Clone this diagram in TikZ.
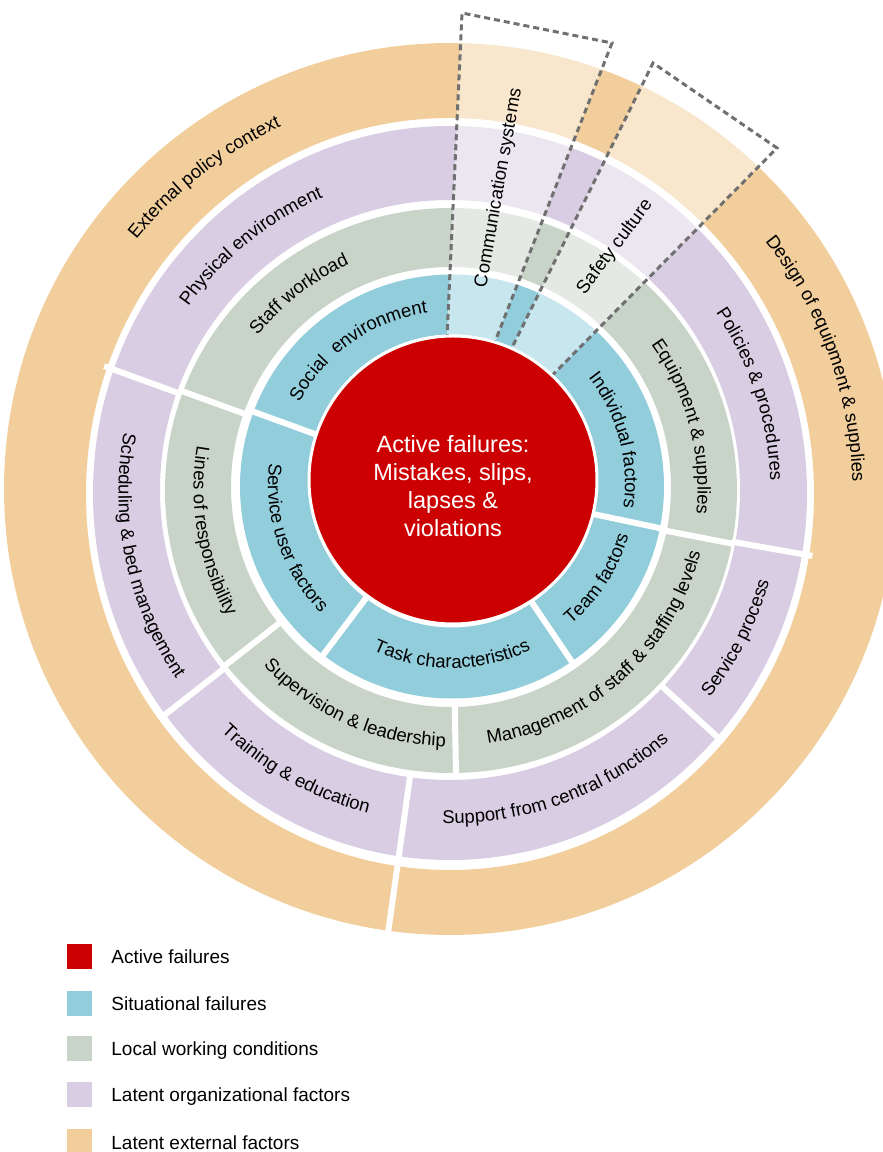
\documentclass[tikz,border=0pt]{standalone}
\usepackage{fontspec}
\setmainfont{Liberation Sans}
\usetikzlibrary{decorations.text}
\definecolor{ActiveRed}{HTML}{CC0000}
\definecolor{SituBlue}{HTML}{92CDDC}
\definecolor{LocalGreen}{HTML}{C9D4C9}
\definecolor{LatentPurple}{HTML}{D8CDE2}
\definecolor{ExternalOrange}{HTML}{F2CE9C}
\definecolor{DashGrey}{HTML}{707070}

\newcommand{\ringfont}{\fontsize{9.25pt}{11pt}\selectfont}
% label bent along a ring: centre, radius, start angle, end angle, text
\newcommand{\arclabel}[5]{%
  \path[decorate, decoration={text along path, text align=center,
      text={|\ringfont|#5}}]
    ([shift={(#3:#2)}]#1) arc[start angle=#3, end angle=#4, radius=#2];}

\begin{document}
\begin{tikzpicture}[x=0.5pt, y=0.5pt,
    gapline/.style={white, line width=3pt},
    focusbox/.style={draw=DashGrey, dash pattern=on 3pt off 2pt, line width=1.5pt,
                     fill=white, fill opacity=0.5},
    keybox/.style={minimum size=12.5pt, inner sep=0pt},
    keytext/.style={anchor=base west, inner sep=0pt, font=\fontsize{9.5pt}{11pt}\selectfont}]

\useasboundingbox (0,0) rectangle (883,1152);

% ring centres
\coordinate (cb) at (452,668);
\coordinate (cg) at (451,663);
\coordinate (cp) at (450,660);
\coordinate (co) at (450,660);

% rings, outside in
\fill[ExternalOrange, even odd rule] (450,663) circle[radius=446]
     (450,658) circle[x radius=364, y radius=376];
\fill[LatentPurple, even odd rule] (450,659) circle[x radius=357, y radius=367]
     (450,662) circle[radius=290];
\fill[LocalGreen, even odd rule] (451,661.5) circle[x radius=286, y radius=282.5]
     (451,665) circle[radius=220];
\fill[SituBlue, even odd rule] (452,665.5) circle[radius=212]
     (452,671) circle[x radius=144, y radius=146.5];

% white cuts between the segments
\foreach \a in {160,233,304,348}
  \draw[gapline] ([shift={(\a:140)}]cb) -- ([shift={(\a:216)}]cb);
\foreach \a in {160,218,271,349}
  \draw[gapline] ([shift={(\a:214)}]cg) -- ([shift={(\a:289)}]cg);
\foreach \a in {160,218,262,317.5,350}
  \draw[gapline] ([shift={(\a:286)}]cp) -- ([shift={(\a:368)}]cp);
\draw[gapline] ([shift={(262:364)}]co) -- ([shift={(262:452)}]co);

% highlighted wedges
\draw[focusbox] (445,772) -- (462,1139) -- (612,1109) -- (480,772) -- cycle;
\draw[focusbox] (491,762) -- (653,1089) -- (777,1004) -- (518,742) -- cycle;

% centre
\node[circle, fill=ActiveRed, draw=white, line width=1.5pt, minimum size=144pt,
      inner sep=0pt] (active) at (453,672) {};
\node[align=center, text=white, font=\fontsize{11.75pt}{14pt}\selectfont]
     (activetext) at ([yshift=-3pt]active.center)
     {Active failures:\\Mistakes, slips,\\lapses \&\\violations};

% situational failures
\arclabel{cb}{173}{170}{80}{Social {\ }environment}
\arclabel{cb}{173}{60}{-30}{Individual factors}
\arclabel{cb}{184}{-63}{-3}{Team factors}
\arclabel{cb}{184}{-140}{-40}{Task characteristics}
\arclabel{cb}{184}{154}{244}{Service user factors}

% local working conditions
\arclabel{cg}{246.5}{168}{88}{Staff workload}
\arclabel{cg}{246.5}{55}{-25}{Equipment {\&} supplies}
\arclabel{cg}{257.5}{-98}{2}{Management of staff {\&} staffing levels}
\arclabel{cg}{257.5}{206}{286}{Supervision {\&} leadership}
\arclabel{cg}{257.5}{150}{230}{Lines of responsibility}

% latent organizational factors
\arclabel{cp}{320.5}{169}{89}{Physical environment}
\arclabel{cp}{320.5}{58}{-22}{Policies {\&} procedures}
\arclabel{cp}{331.5}{-57}{3}{Service process}
\arclabel{cp}{331.5}{-110}{-30}{Support from central functions}
\arclabel{cp}{331.5}{211}{271}{Training {\&} education}
\arclabel{cp}{331.5}{152}{232}{Scheduling {\&} bed management}

% latent external factors
\arclabel{co}{402.5}{168}{88}{External policy context}
\arclabel{co}{402.5}{60}{-20}{Design of equipment {\&} supplies}

\node[rotate=80, font=\ringfont] (commsys) at (499,964) {Communication systems};
\node[rotate=53, font=\ringfont] (safety) at (615,905) {Safety culture};

% legend
\foreach \y/\c/\t [count=\i] in {195/ActiveRed/Active failures,
    148/SituBlue/Situational failures, 103/LocalGreen/Local working conditions,
    57/LatentPurple/Latent organizational factors, 10/ExternalOrange/Latent external factors}
{
  \node[keybox, fill=\c] (key\i) at (79.5,\y) {};
  \node[keytext] (keytext\i) at (111,\y-7) {\t};
}
\end{tikzpicture}
\end{document}
